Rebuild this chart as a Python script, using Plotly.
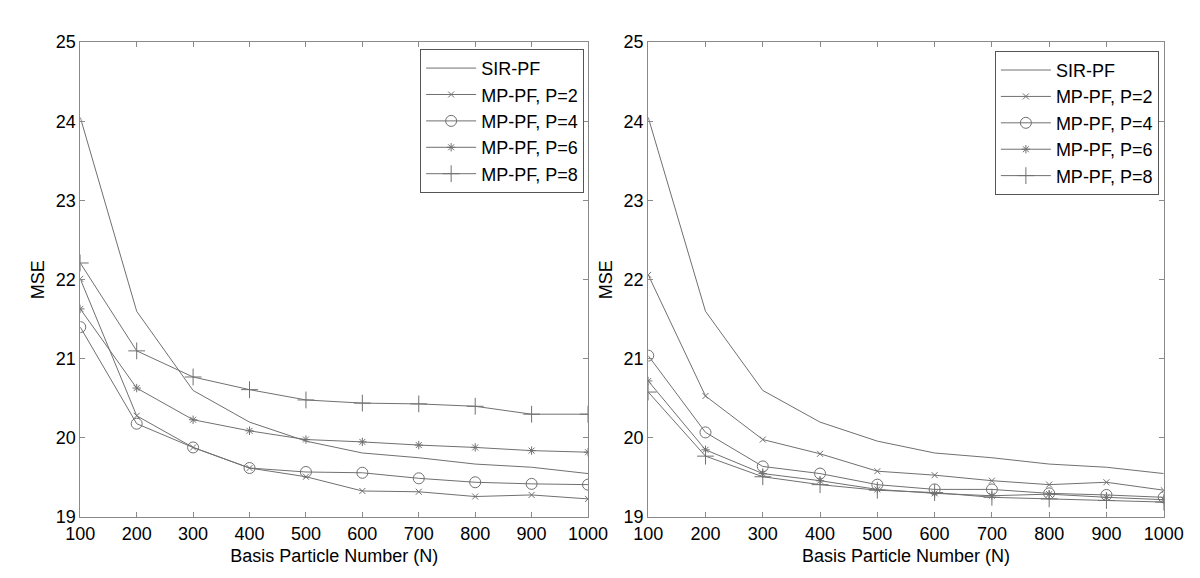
import plotly.graph_objects as go

N = [100, 200, 300, 400, 500, 600, 700, 800, 900, 1000]

sir_left = [24.05, 21.6, 20.6, 20.2, 19.96, 19.81, 19.75, 19.67, 19.63, 19.55]
p2_left = [22.01, 20.28, 19.88, 19.62, 19.51, 19.33, 19.32, 19.26, 19.28, 19.23]
p4_left = [21.40, 20.18, 19.88, 19.62, 19.57, 19.56, 19.49, 19.44, 19.42, 19.41]
p6_left = [21.63, 20.63, 20.23, 20.09, 19.98, 19.95, 19.91, 19.88, 19.84, 19.82]
p8_left = [22.21, 21.10, 20.77, 20.61, 20.48, 20.44, 20.43, 20.40, 20.30, 20.30]

sir_right = [24.05, 21.6, 20.6, 20.2, 19.96, 19.81, 19.75, 19.67, 19.63, 19.55]
p2_right = [22.06, 20.53, 19.98, 19.80, 19.58, 19.53, 19.46, 19.41, 19.44, 19.34]
p4_right = [21.04, 20.07, 19.64, 19.55, 19.41, 19.35, 19.35, 19.30, 19.28, 19.25]
p6_right = [20.72, 19.85, 19.55, 19.46, 19.35, 19.30, 19.27, 19.29, 19.25, 19.22]
p8_right = [20.58, 19.77, 19.51, 19.41, 19.34, 19.31, 19.25, 19.23, 19.21, 19.19]

names = ["SIR-PF", "MP-PF, P=2", "MP-PF, P=4", "MP-PF, P=6", "MP-PF, P=8"]
symbols = [None, "x-thin-open", "circle-open", "asterisk-open", "cross-thin-open"]
sizes = [0, 6, 11, 7, 12]

LINE = "#707070"
FRAME = "#8a8a8a"
FONT = "Liberation Sans, Arial, sans-serif"

fig = go.Figure()

panels = [
    ("x", "y", "legend", [sir_left, p2_left, p4_left, p6_left, p8_left]),
    ("x2", "y2", "legend2", [sir_right, p2_right, p4_right, p6_right, p8_right]),
]

for xa, ya, lg, series in panels:
    for name, sym, sz, vals in zip(names, symbols, sizes, series):
        if sym is None:
            fig.add_trace(go.Scatter(x=N, y=vals, mode="lines", name=name,
                                     line=dict(color=LINE, width=1),
                                     xaxis=xa, yaxis=ya, legend=lg))
        else:
            fig.add_trace(go.Scatter(x=N, y=vals, mode="lines+markers", name=name,
                                     line=dict(color=LINE, width=1),
                                     marker=dict(symbol=sym, size=sz, color=LINE,
                                                 line=dict(color=LINE, width=1)),
                                     xaxis=xa, yaxis=ya, legend=lg))

axis_common = dict(
    showline=True, linecolor=FRAME, linewidth=1, mirror="allticks",
    ticks="inside", ticklen=5, tickcolor=FRAME, showgrid=False, zeroline=False,
    tickfont=dict(family=FONT, size=18, color="black"),
)
xcommon = dict(axis_common, range=[100, 1000], tickmode="array", tickvals=N,
               title=dict(text="Basis Particle Number (N)",
                          font=dict(family=FONT, size=18, color="black"), standoff=6))
ycommon = dict(axis_common, range=[19, 25], tickmode="array", tickvals=[19, 20, 21, 22, 23, 24, 25],
               title=dict(text="MSE", font=dict(family=FONT, size=18, color="black"), standoff=6))

legend_common = dict(
    bordercolor="#555555", borderwidth=1, bgcolor="white",
    font=dict(family=FONT, size=18, color="black"),
    xanchor="right", yanchor="top", itemwidth=50, tracegroupgap=0,
)

fig.update_layout(
    width=1200, height=578,
    margin=dict(l=0, r=0, t=0, b=0),
    paper_bgcolor="white", plot_bgcolor="white",
    xaxis=dict(xcommon, domain=[59 / 1200, 582 / 1200], anchor="y"),
    yaxis=dict(ycommon, domain=[(578 - 517) / 578, (578 - 25) / 578], anchor="x"),
    xaxis2=dict(xcommon, domain=[644 / 1200, 1175 / 1200], anchor="y2"),
    yaxis2=dict(ycommon, domain=[(578 - 517) / 578, (578 - 25) / 578], anchor="x2"),
    legend=dict(legend_common, x=578 / 1200, y=(578 - 32) / 578),
    legend2=dict(legend_common, x=1170 / 1200, y=(578 - 34) / 578),
    showlegend=True,
)

fig.write_html("out.html")
